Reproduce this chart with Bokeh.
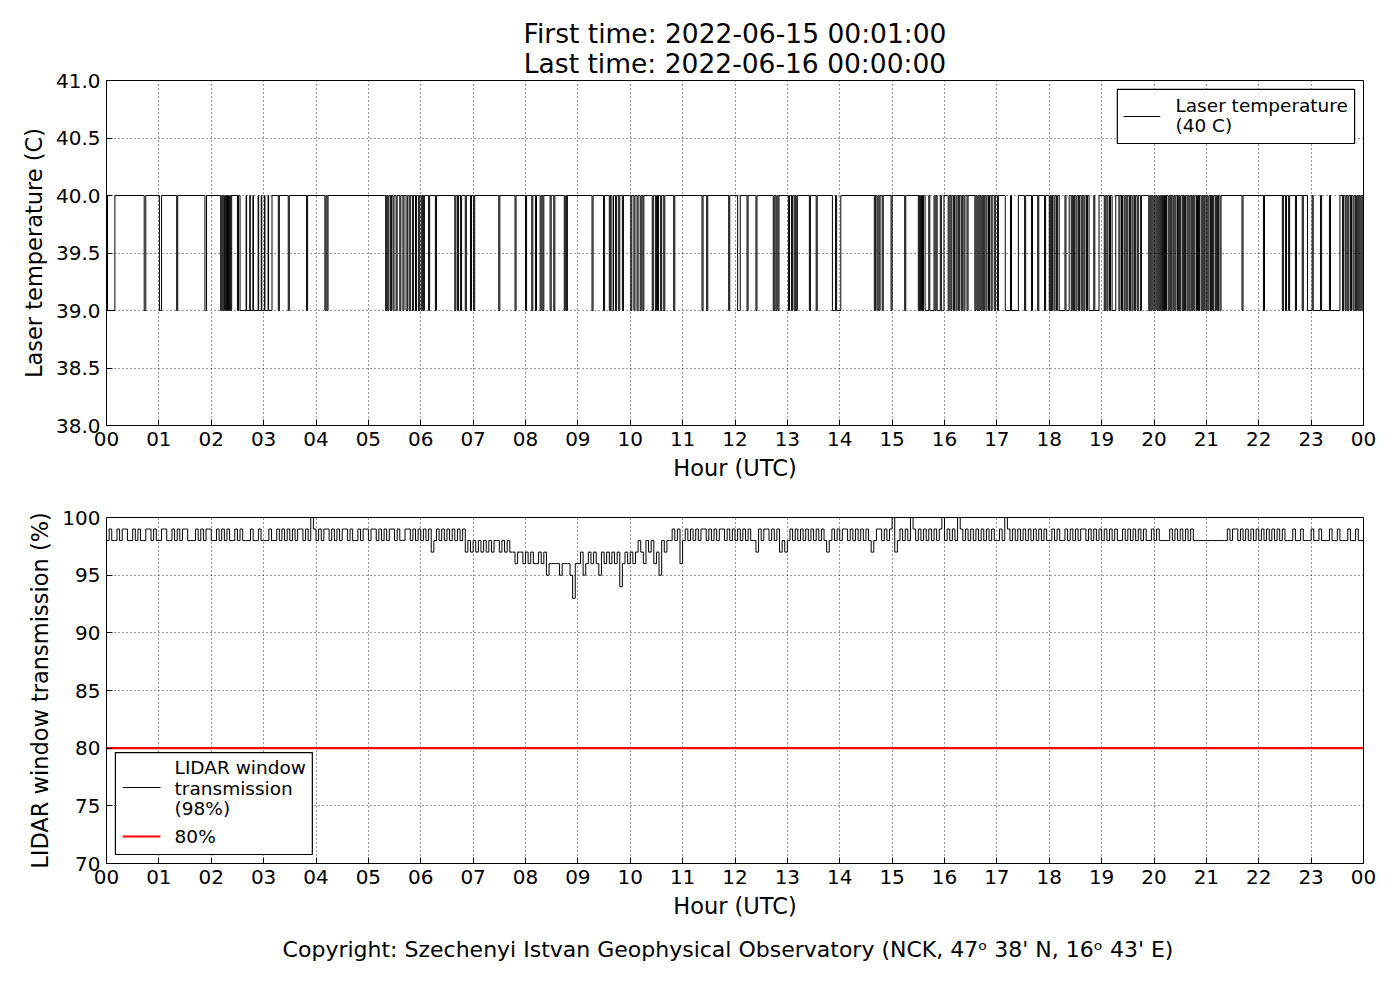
from bokeh.plotting import figure
from bokeh.layouts import column
from bokeh.models import FixedTicker, BoxAnnotation, Label, Title, Range1d, PrintfTickFormatter
from bokeh.embed import file_html
from bokeh.resources import INLINE

FONT = "DejaVu Sans"

# ---------------- text ----------------
title_first = "First time: 2022-06-15 00:01:00"
title_last = "Last time: 2022-06-16 00:00:00"
footer_text = "Copyright: Szechenyi Istvan Geophysical Observatory (NCK, 47\u1d52  38' N, 16\u1d52  43' E)"
x_label = "Hour (UTC)"
temp_label = "Laser temperature (C)"
trans_label = "LIDAR window transmission (%)"
temp_legend = ["Laser temperature", "(40 C)"]
trans_legend = ["LIDAR window", "transmission", "(98%)"]
thr_legend = "80%"

# ---------------- ticks ----------------
hour_ticks = list(range(25))
hour_labels = ["00", "01", "02", "03", "04", "05", "06", "07", "08", "09", "10", "11",
               "12", "13", "14", "15", "16", "17", "18", "19", "20", "21", "22", "23", "00"]
temp_ticks = [38.0, 38.5, 39.0, 39.5, 40.0, 40.5, 41.0]
trans_ticks = [70, 75, 80, 85, 90, 95, 100]

# ---------------- data: laser temperature ----------------
laser_start = 1.0 / 60.0
laser_end = 24.0
laser_high = 40.0
laser_low = 39.0
# intervals (hours) during which the laser temperature read 39 C
laser_dips = [
    (0.02, 0.16), (0.72, 0.75), (1.01, 1.05), (1.34, 1.36), (1.88, 1.91),
    (2.18, 2.20), (2.22, 2.24), (2.25, 2.27), (2.29, 2.31), (2.33, 2.35), (2.37, 2.39),
    (2.50, 2.52),
    (2.55, 2.665), (2.675, 2.735), (2.745, 2.795), (2.805, 2.895), (2.905, 2.955),
    (2.965, 3.015), (3.025, 3.085), (3.095, 3.16),
    (3.28, 3.30), (3.47, 3.49), (3.82, 3.84), (4.17, 4.19), (4.21, 4.23),
    (5.33, 5.35), (5.37, 5.39), (5.42, 5.44), (5.47, 5.49), (5.53, 5.55), (5.60, 5.62),
    (5.66, 5.68), (5.72, 5.75), (5.78, 5.80), (5.84, 5.86), (5.90, 5.92), (5.96, 5.98),
    (6.01, 6.03), (6.05, 6.07),
    (6.15, 6.17), (6.28, 6.30),
    (6.65, 6.67), (6.70, 6.72), (6.76, 6.78), (6.85, 6.87), (6.95, 6.97), (7.01, 7.03),
    (7.49, 7.51), (7.80, 7.82),
    (8.00, 8.02), (8.12, 8.14), (8.19, 8.21), (8.28, 8.30), (8.33, 8.35),
    (8.47, 8.49), (8.54, 8.56), (8.74, 8.76), (8.78, 8.80),
    (9.27, 9.29), (9.49, 9.51),
    (9.60, 9.62), (9.65, 9.68), (9.72, 9.74), (9.78, 9.80), (9.85, 9.87),
    (10.01, 10.03), (10.07, 10.09), (10.13, 10.15), (10.19, 10.21), (10.24, 10.26),
    (10.42, 10.44), (10.48, 10.50), (10.52, 10.54), (10.58, 10.60), (10.64, 10.66),
    (10.83, 10.85), (11.37, 11.39), (11.46, 11.48), (11.88, 11.90),
    (12.05, 12.10), (12.23, 12.25), (12.40, 12.42),
    (12.73, 12.75), (12.78, 12.80), (12.82, 12.84),
    (13.02, 13.04), (13.08, 13.10), (13.13, 13.15), (13.17, 13.19),
    (13.42, 13.44), (13.55, 13.57), (13.86, 13.92), (13.94, 14.02),
    (14.66, 14.68), (14.71, 14.73), (14.75, 14.77), (14.81, 14.83),
    (14.98, 15.00), (15.24, 15.26),
    (15.50, 15.52), (15.54, 15.56), (15.58, 15.60), (15.63, 15.70), (15.72, 15.80),
    (15.82, 15.84), (15.86, 15.92), (15.94, 15.99),
    (16.07, 16.09), (16.12, 16.14), (16.17, 16.19), (16.22, 16.24), (16.27, 16.29),
    (16.32, 16.34), (16.37, 16.39), (16.43, 16.45),
    (16.58, 16.60), (16.62, 16.64), (16.66, 16.68), (16.70, 16.72), (16.74, 16.76),
    (16.79, 16.81), (16.84, 16.86), (16.89, 16.91), (16.95, 16.97), (17.01, 17.03),
    (17.16, 17.26), (17.28, 17.41),
    (17.53, 17.55), (17.66, 17.68), (17.78, 17.80), (17.91, 17.93),
    (18.00, 18.02), (18.04, 18.06), (18.09, 18.11), (18.14, 18.16), (18.19, 18.30),
    (18.32, 18.38), (18.42, 18.44), (18.46, 18.48), (18.51, 18.53), (18.56, 18.58),
    (18.61, 18.63), (18.66, 18.68), (18.71, 18.73), (18.76, 18.85), (18.87, 18.95),
    (19.05, 19.07), (19.10, 19.12), (19.15, 19.17), (19.20, 19.27), (19.33, 19.35),
    (19.38, 19.40), (19.43, 19.45), (19.48, 19.50), (19.53, 19.55), (19.58, 19.60),
    (19.63, 19.65), (19.68, 19.70), (19.74, 19.76),
    (19.90, 19.92), (19.94, 19.96), (19.98, 20.00), (20.02, 20.04), (20.06, 20.08),
    (20.10, 20.12), (20.14, 20.16), (20.18, 20.20), (20.22, 20.24), (20.27, 20.29),
    (20.31, 20.33), (20.36, 20.38), (20.40, 20.42), (20.45, 20.47), (20.49, 20.51),
    (20.54, 20.56), (20.58, 20.60), (20.63, 20.65), (20.67, 20.69), (20.72, 20.74),
    (20.76, 20.78), (20.81, 20.83), (20.85, 20.87), (20.90, 20.92), (20.94, 20.96),
    (20.99, 21.01), (21.03, 21.05), (21.08, 21.10), (21.12, 21.14), (21.17, 21.19),
    (21.21, 21.23), (21.26, 21.28),
    (21.68, 21.70), (22.09, 22.11),
    (22.45, 22.47), (22.51, 22.53), (22.57, 22.59), (22.70, 22.72), (22.83, 22.85),
    (22.93, 23.02), (23.04, 23.18), (23.20, 23.35), (23.37, 23.55),
    (23.60, 23.62), (23.65, 23.67), (23.70, 23.72), (23.75, 23.77), (23.80, 23.82),
    (23.85, 23.87), (23.89, 23.91), (23.93, 23.95), (23.97, 23.99),
]

# ---------------- data: LIDAR window transmission (%), 3-minute samples per hour ----------------
trans_step = 0.05
trans_by_hour = [
    [98, 99, 98, 98, 99, 98, 99, 99, 98, 98, 99, 98, 99, 98, 98, 99, 99, 98, 99, 98],
    [98, 99, 99, 98, 98, 99, 98, 99, 98, 99, 99, 98, 98, 98, 99, 98, 99, 98, 99, 99],
    [98, 98, 99, 98, 99, 98, 99, 98, 98, 99, 98, 99, 98, 98, 98, 99, 98, 98, 99, 98],
    [98, 98, 99, 98, 98, 99, 98, 99, 98, 99, 98, 99, 98, 99, 99, 98, 99, 98, 100, 99],
    [98, 99, 98, 99, 99, 98, 99, 98, 99, 98, 99, 99, 98, 99, 98, 98, 99, 98, 99, 99],
    [98, 99, 99, 98, 99, 98, 99, 98, 99, 99, 98, 99, 98, 98, 99, 99, 98, 99, 98, 99],
    [98, 99, 98, 99, 97, 98, 99, 98, 99, 98, 99, 98, 99, 98, 99, 98, 99, 97, 98, 97],
    [98, 97, 98, 97, 98, 97, 98, 97, 98, 98, 97, 98, 97, 98, 97, 97, 96, 97, 97, 96],
    [97, 96, 97, 96, 96, 97, 96, 97, 95, 96, 96, 96, 96, 95, 96, 96, 96, 95, 93, 96],
    [96, 97, 95, 96, 97, 96, 97, 96, 95, 97, 96, 97, 96, 97, 96, 97, 94, 96, 97, 96],
    [97, 96, 97, 98, 97, 96, 98, 97, 98, 96, 97, 95, 98, 97, 98, 98, 99, 98, 99, 96],
    [98, 99, 98, 99, 98, 99, 98, 99, 99, 98, 99, 98, 99, 98, 99, 99, 98, 99, 98, 99],
    [98, 99, 98, 99, 98, 99, 98, 98, 97, 99, 98, 99, 99, 98, 99, 98, 99, 97, 98, 97],
    [98, 99, 98, 99, 98, 99, 98, 99, 98, 99, 98, 99, 98, 99, 98, 97, 98, 99, 98, 99],
    [98, 99, 99, 98, 99, 98, 99, 98, 99, 98, 99, 98, 97, 98, 99, 99, 98, 99, 98, 99],
    [100, 97, 98, 99, 98, 99, 98, 100, 99, 98, 99, 98, 99, 98, 99, 98, 99, 98, 99, 100],
    [98, 99, 98, 99, 98, 100, 99, 98, 99, 98, 99, 98, 99, 98, 99, 98, 99, 98, 99, 98],
    [98, 99, 98, 100, 99, 98, 99, 98, 99, 98, 99, 98, 99, 98, 99, 98, 99, 98, 99, 98],
    [98, 99, 98, 99, 98, 98, 99, 98, 99, 98, 99, 98, 99, 99, 98, 99, 98, 99, 98, 99],
    [98, 99, 98, 99, 98, 99, 98, 98, 99, 98, 99, 98, 99, 98, 99, 98, 99, 98, 98, 99],
    [98, 99, 98, 98, 98, 98, 99, 98, 99, 98, 99, 98, 99, 98, 99, 98, 98, 98, 98, 98],
    [98, 98, 98, 98, 98, 98, 98, 98, 99, 98, 99, 99, 98, 99, 98, 99, 98, 99, 98, 99],
    [98, 99, 98, 99, 98, 99, 98, 99, 98, 99, 98, 98, 98, 99, 98, 98, 99, 98, 98, 98],
    [99, 98, 98, 99, 98, 98, 98, 99, 98, 98, 99, 98, 98, 98, 99, 98, 98, 99, 98, 98],
]
trans_last = 98
threshold = 80

# ---------------- build series ----------------
lx = [laser_start]
ly = [laser_high]
for s, e in laser_dips:
    lx += [s, s, e, e]
    ly += [laser_high, laser_low, laser_low, laser_high]
lx.append(laser_end)
ly.append(laser_high)

tx, ty = [], []
for h, row in enumerate(trans_by_hour):
    for k, v in enumerate(row):
        tx.append(h + k * trans_step)
        ty.append(v)
tx.append(24.0)
ty.append(trans_last)

# ---------------- styling helper ----------------
def style(p, yticks):
    p.outline_line_color = "black"
    p.outline_line_width = 1
    p.outline_line_alpha = 1
    p.background_fill_color = "white"
    p.border_fill_color = "white"
    for ax in (p.xaxis[0], p.yaxis[0]):
        ax.axis_line_color = None
        ax.major_tick_in = 6
        ax.major_tick_out = 0
        ax.major_tick_line_color = "black"
        ax.minor_tick_line_color = None
        ax.major_label_text_font = FONT
        ax.major_label_text_font_size = "20px"
        ax.major_label_text_color = "black"
        ax.axis_label_text_font = FONT
        ax.axis_label_text_font_size = "22.5px"
        ax.axis_label_text_font_style = "normal"
        ax.axis_label_text_color = "black"
        ax.major_label_standoff = 6
        ax.axis_label_standoff = 6
    p.xaxis.ticker = FixedTicker(ticks=hour_ticks)
    p.xaxis.major_label_overrides = {t: l for t, l in zip(hour_ticks, hour_labels)}
    p.yaxis.ticker = FixedTicker(ticks=yticks)
    p.xaxis.axis_label = x_label
    p.grid.grid_line_color = "black"
    p.grid.grid_line_dash = "1 3"
    p.grid.grid_line_width = 0.8


W = 1384
# ---------------- top figure ----------------
p1 = figure(width=W, height=490, x_range=Range1d(0, 24), y_range=Range1d(38, 41),
            output_backend="svg", toolbar_location=None,
            min_border_left=106, min_border_right=21, min_border_top=80, min_border_bottom=65)
style(p1, temp_ticks)
p1.yaxis.formatter = PrintfTickFormatter(format="%.1f")
p1.yaxis.axis_label = temp_label
p1.line(lx, ly, line_color="black", line_width=1)

p1.title.text = title_first
p1.title.align = "center"
p1.title.text_font = FONT
p1.title.text_font_size = "26.5px"
p1.title.text_font_style = "normal"
p1.title.text_color = "black"
p1.title.standoff = -10
t_last = Title(text=title_last, align="center", text_font=FONT, text_font_size="26.5px",
               text_font_style="normal", text_color="black", standoff=4)
p1.add_layout(t_last, "above")

# legend (top)
p1.add_layout(BoxAnnotation(left=19.30, right=23.83, bottom=40.452, top=40.922,
                            fill_color="white", fill_alpha=1, line_color="black",
                            line_alpha=1, line_width=1.2, level="annotation"))
p1.line([19.42, 20.12], [40.687, 40.687], line_color="black", line_width=1, level="overlay")
for i, txt in enumerate(temp_legend):
    p1.add_layout(Label(x=20.41, y=40.783 - i * 0.174, text=txt, text_font=FONT,
                        text_font_size="18.5px", text_baseline="middle", text_color="black",
                        level="overlay"))

# ---------------- bottom figure ----------------
p2 = figure(width=W, height=500, x_range=Range1d(0, 24), y_range=Range1d(70, 100),
            output_backend="svg", toolbar_location=None,
            min_border_left=106, min_border_right=21, min_border_top=27, min_border_bottom=127)
style(p2, trans_ticks)
p2.yaxis.axis_label = trans_label
p2.step(tx, ty, mode="after", line_color="black", line_width=1)
p2.line([0, 24], [threshold, threshold], line_color="#ff0000", line_width=2.2)

foot = Title(text=footer_text, align="center", text_font=FONT, text_font_size="22px",
             text_font_style="normal", text_color="black", standoff=26)
p2.add_layout(foot, "below")

# legend (bottom)
p2.add_layout(BoxAnnotation(left=0.17, right=3.93, bottom=70.78, top=79.62,
                            fill_color="white", fill_alpha=1, line_color="black",
                            line_alpha=1, line_width=1.2, level="annotation"))
p2.line([0.31, 1.03], [76.59, 76.59], line_color="black", line_width=1, level="overlay")
p2.line([0.31, 1.03], [72.34, 72.34], line_color="#ff0000", line_width=2.2, level="overlay")
for i, txt in enumerate(trans_legend):
    p2.add_layout(Label(x=1.30, y=78.29 - i * 1.78, text=txt, text_font=FONT,
                        text_font_size="18.5px", text_baseline="middle", text_color="black",
                        level="overlay"))
p2.add_layout(Label(x=1.30, y=72.34, text=thr_legend, text_font=FONT,
                    text_font_size="18.5px", text_baseline="middle", text_color="black",
                    level="overlay"))

layout = column(p1, p2, spacing=0)
open("out.html", "w").write(file_html(layout, INLINE))
